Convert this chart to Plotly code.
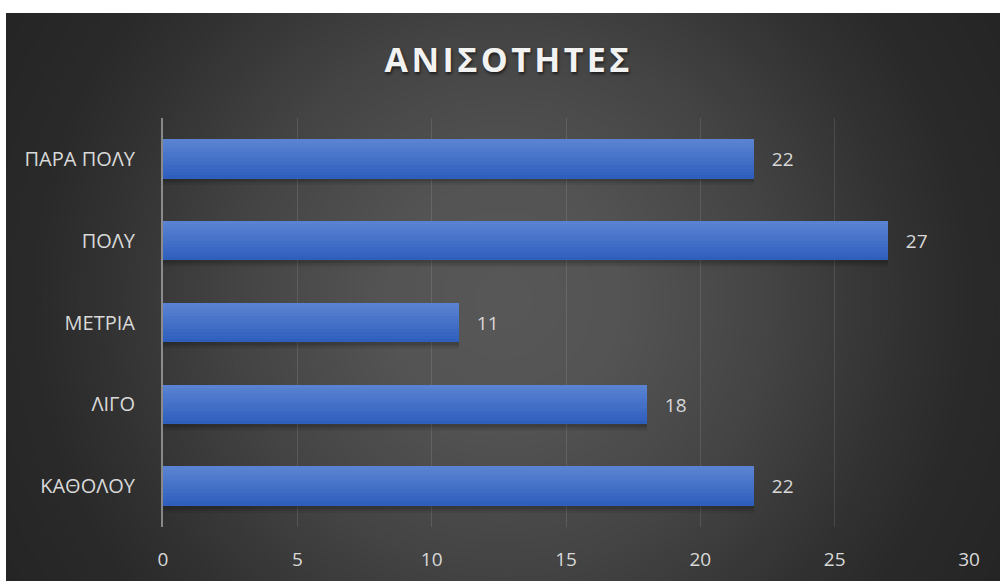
import numpy as np
import plotly.graph_objects as go

# ---- data ----
categories = ["ΚΑΘΟΛΟΥ", "ΛΙΓΟ", "ΜΕΤΡΙΑ", "ΠΟΛΥ", "ΠΑΡΑ ΠΟΛΥ"]
values = [22, 18, 11, 27, 22]
x_ticks = [0, 5, 10, 15, 20, 25, 30]
title_text = "ΑΝΙΣΟΤΗΤΕΣ"

# ---- geometry of the figure (pixels) ----
W, H = 1000, 581
ML, MR, MT, MB = 163, 31, 118, 54
PW, PH = W - ML - MR, H - MT - MB


def px_x(p):
    return (p - ML) / PW


def px_y(p):
    return (H - MB - p) / PH


BAR_W = 0.48
FONT = "Open Sans"
TXT = "#d9d9d9"

fig = go.Figure()

# soft drop shadow beneath the bars
for off, alpha in [(0.085, 0.06), (0.06, 0.08), (0.035, 0.11)]:
    fig.add_trace(go.Bar(
        y=categories, x=values, orientation="h",
        offset=-BAR_W / 2 - off, width=BAR_W,
        marker=dict(color="rgba(0,0,0,%.2f)" % alpha, line=dict(width=0)),
        hoverinfo="skip", showlegend=False,
    ))

# bars drawn as horizontal bands of a vertical blue gradient
top_rgb = np.array([0x5c, 0x84, 0xd3])
bot_rgb = np.array([0x2d, 0x5d, 0xbc])
n_bands = 12
band = BAR_W / n_bands
for k in range(n_bands):
    t = (k + 0.5) / n_bands  # 0 at the bottom, 1 at the top
    c = bot_rgb + (top_rgb - bot_rgb) * t
    fig.add_trace(go.Bar(
        y=categories, x=values, orientation="h",
        offset=-BAR_W / 2 + k * band, width=band * 1.02,
        marker=dict(color="rgb(%d,%d,%d)" % tuple(c.round().astype(int)),
                    line=dict(width=0)),
        hoverinfo="skip", showlegend=False,
    ))

# value labels
fig.add_trace(go.Bar(
    y=categories, x=values, orientation="h",
    offset=-BAR_W / 2, width=BAR_W,
    marker=dict(color="rgba(0,0,0,0)", line=dict(width=0)),
    text=values, texttemplate="\u00a0\u00a0\u00a0%{x}",
    textposition="outside", cliponaxis=False,
    outsidetextfont=dict(family=FONT, size=19, color=TXT),
    showlegend=False,
))

# ---- radial background ----
shapes = [dict(type="rect", xref="paper", yref="paper",
               x0=px_x(6), x1=px_x(W), y0=px_y(13), y1=px_y(H),
               fillcolor="#242424", line=dict(width=0), layer="below")]
cx, cy = 503, 300
stops_d = [0, 120, 270, 400, 470, 600]
stops_v = [88, 84, 68, 50, 42, 36]
for v in range(37, 89):
    r = float(np.interp(v, stops_v[::-1], stops_d[::-1]))
    shapes.append(dict(
        type="circle", xref="paper", yref="paper",
        xsizemode="pixel", ysizemode="pixel",
        xanchor=px_x(cx), yanchor=px_y(cy),
        x0=-r, x1=r, y0=-r, y1=r,
        fillcolor="rgb(%d,%d,%d)" % (v, v, v),
        line=dict(width=0), layer="below",
    ))
# white frame strips at the top and left
shapes.append(dict(type="rect", xref="paper", yref="paper",
                   x0=px_x(-5), x1=px_x(6), y0=px_y(H + 5), y1=px_y(-5),
                   fillcolor="white", line=dict(width=0), layer="below"))
shapes.append(dict(type="rect", xref="paper", yref="paper",
                   x0=px_x(-5), x1=px_x(W + 5), y0=px_y(13), y1=px_y(-5),
                   fillcolor="white", line=dict(width=0), layer="below"))

# letter-spaced title
spaced_title = "\u200a".join(title_text)

fig.update_layout(
    width=W, height=H,
    margin=dict(l=ML, r=MR, t=MT, b=MB, pad=0, autoexpand=False),
    paper_bgcolor="white", plot_bgcolor="rgba(0,0,0,0)",
    barmode="overlay", bargap=0,
    shapes=shapes,
    title=dict(
        text=spaced_title, x=0.507, xanchor="center",
        y=1 - 60 / H, yanchor="middle",
        font=dict(family=FONT, size=34, color="#f2f2f2", weight="bold",
                  shadow="1px 2px 3px rgba(0,0,0,0.6)"),
    ),
    xaxis=dict(
        range=[0, 30], tickvals=x_ticks, showgrid=True,
        gridcolor="rgba(255,255,255,0.11)", gridwidth=1,
        zeroline=False, showline=False, ticks="", automargin=False,
        tickfont=dict(family=FONT, size=19, color=TXT),
        ticklabelstandoff=19, fixedrange=True,
    ),
    yaxis=dict(
        categoryorder="array", categoryarray=categories,
        range=[-0.5, 4.5], showgrid=False, zeroline=False,
        showline=True, linecolor="rgba(255,255,255,0.42)", linewidth=2,
        ticks="", automargin=False,
        tickfont=dict(family=FONT, size=20, color=TXT),
        ticklabelstandoff=22, fixedrange=True,
    ),
    showlegend=False,
)

fig.write_html("out.html")
